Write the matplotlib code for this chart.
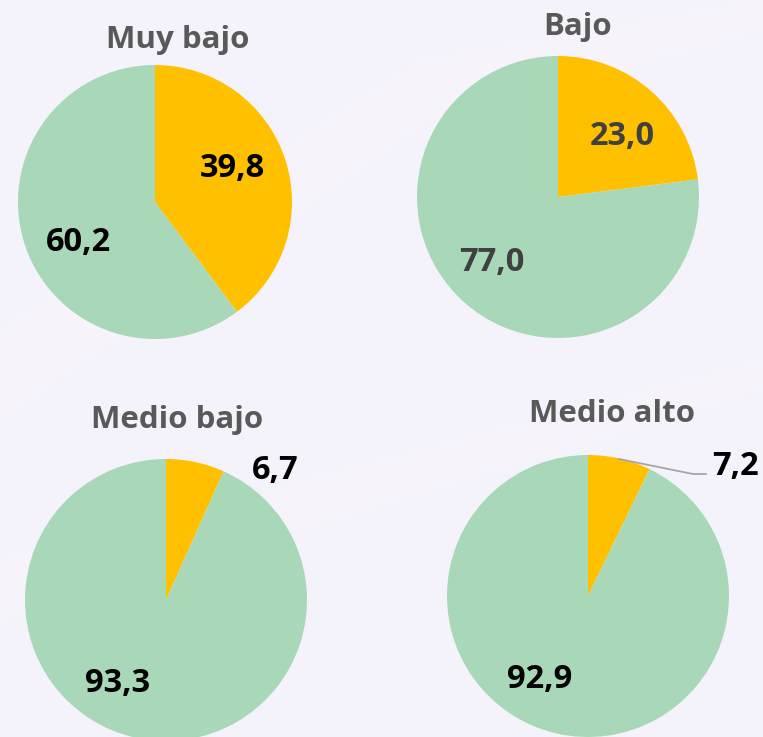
import matplotlib
matplotlib.use("Agg")
import matplotlib.pyplot as plt
from matplotlib.patches import Polygon

# ---- data ----
groups = ["Muy bajo", "Bajo", "Medio bajo", "Medio alto"]
yellow_vals = [39.8, 23.0, 6.7, 7.2]
green_vals = [60.2, 77.0, 93.3, 92.9]
yellow_labels = ["39,8", "23,0", "6,7", "7,2"]
green_labels = ["60,2", "77,0", "93,3", "92,9"]

# ---- layout (pixel coords, y from top) ----
W, H = 763, 737
centers = [(155, 202), (558, 197), (166, 600), (588, 596)]
radii = [137, 141, 141, 141]
title_pos = [(178, 40), (578, 27), (177, 420), (612, 414)]
ylab_pos = [(232, 168), (622, 136), (275, 470), (735, 466)]
glab_pos = [(78, 242), (492, 262), (118, 683), (540, 680)]
label_colors = [("#000000", "#000000"), ("#404040", "#404040"),
                ("#000000", "#000000"), ("#000000", "#000000")]

YELLOW = "#FFC000"
GREEN = "#A9D8B8"
BG = "#F4F2FA"
FONT = "Open Sans"

fig = plt.figure(figsize=(W / 100, H / 100), dpi=100, facecolor=BG)
ax = fig.add_axes([0, 0, 1, 1])
ax.set_xlim(0, W)
ax.set_ylim(0, H)
ax.set_aspect("equal")
ax.axis("off")

def fy(y):
    return H - y

# subtle background bands
bands = [
    [(0, fy(330)), (420, fy(60)), (763, fy(0)), (763, fy(30)), (430, fy(120)), (0, fy(420))],
    [(0, fy(560)), (763, fy(360)), (763, fy(390)), (0, fy(620))],
]
for b in bands:
    ax.add_patch(Polygon(b, closed=True, facecolor="white", edgecolor="none", alpha=0.2, zorder=0))

for i in range(4):
    cx, cy = centers[i]
    ax.pie([yellow_vals[i], green_vals[i]], colors=[YELLOW, GREEN],
           startangle=90, counterclock=False, center=(cx, fy(cy)), radius=radii[i],
           wedgeprops=dict(linewidth=0), frame=True)
    ax.text(title_pos[i][0], fy(title_pos[i][1]), groups[i], ha="center", va="center",
            fontsize=22.5, fontweight="bold", color="#595959", family=FONT)
    ax.text(ylab_pos[i][0], fy(ylab_pos[i][1]), yellow_labels[i], ha="center", va="center",
            fontsize=23.5, fontweight="bold", color=label_colors[i][0], family=FONT)
    ax.text(glab_pos[i][0], fy(glab_pos[i][1]), green_labels[i], ha="center", va="center",
            fontsize=23.5, fontweight="bold", color=label_colors[i][1], family=FONT)

# leader line for 7,2
ax.plot([619, 693, 706], [fy(459), fy(474), fy(474)], color="#A6A6A6", lw=1.3, zorder=5)

ax.set_xlim(0, W)
ax.set_ylim(0, H)
ax.axis("off")
fig.savefig("out.png", dpi=100, facecolor=BG)
